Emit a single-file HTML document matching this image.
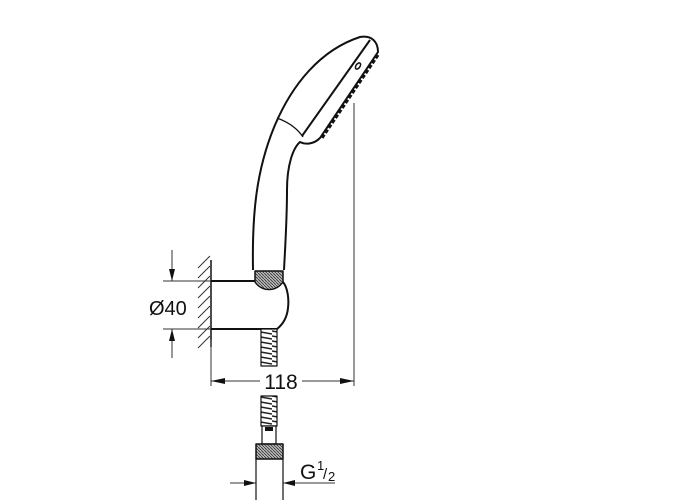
<!DOCTYPE html>
<html><head><style>html,body{margin:0;background:#fff;}svg{display:block}</style></head>
<body>
<svg width="700" height="500" viewBox="0 0 700 500" xmlns="http://www.w3.org/2000/svg">
<defs>
<pattern id="h" width="3" height="3" patternUnits="userSpaceOnUse"><rect width="3" height="3" fill="#bbb"/><path d="M0 0L3 3" stroke="#333" stroke-width="0.8"/></pattern>
<pattern id="hose" width="17" height="5" patternUnits="userSpaceOnUse"><rect width="17" height="5" fill="#fff"/><path d="M0 1L17 4" stroke="#222" stroke-width="1.6"/></pattern>
</defs>
<g fill="none" stroke="#111" stroke-width="2" stroke-linejoin="round">
<path d="M253 270 C252 215 256 170 275 125 C292 85 320 50 360 37 C372 35 378 42 378 52 L320 138 C314 144 306 145 300 142 C293 148 287 165 287 190 C287 220 285 250 284 270"/>
<path d="M370 40 L302 136"/>
<path d="M378 55 L322 138" stroke-width="3" stroke-dasharray="4 2"/>
<path d="M277 118 C288 122 297 128 303 137" stroke-width="1.3"/>
<ellipse cx="358" cy="66" rx="2" ry="3.5" stroke-width="1.5" transform="rotate(35 358 66)"/>
<path d="M255 271 L283 271 L283 282 C276 292 262 292 255 282 Z" fill="url(#h)" stroke-width="1.5"/>
<path d="M211 281 L255 281 M283 282 C288 288 289 300 288 308 C287 318 282 325 277 329 L211 329"/>
<rect x="261" y="329" width="16" height="37" fill="url(#hose)" stroke-width="1.2"/>
<rect x="261" y="396" width="16" height="30" fill="url(#hose)" stroke-width="1.2"/>
<rect x="262" y="426" width="14" height="18" fill="#fff" stroke-width="1.2"/>
<rect x="265" y="427" width="8" height="4" fill="#111" stroke="none"/>
<rect x="256" y="444" width="27" height="15" fill="url(#h)" stroke-width="1.5"/>
<path d="M256 459 L256 500 M283 459 L283 500" stroke-width="1.2"/>
<path d="M211 260 L211 347" stroke-width="1.5"/>
</g>
<g stroke="#333" stroke-width="1">
<path d="M198 268 L210 256 M198 278 L210 266 M198 288 L210 276 M198 298 L210 286 M198 308 L210 296 M198 318 L210 306 M198 328 L210 316 M198 338 L210 326 M198 348 L210 336"/>
<path d="M163 281 L211 281 M163 329 L211 329"/>
<path d="M172 250 L172 281 M172 329 L172 358"/>
<path d="M354 103 L354 386 M211 340 L211 386"/>
<path d="M211 381 L260 381 M302 381 L354 381"/>
<path d="M230 483 L256 483 M283 483 L335 483"/>
</g>
<g fill="#111">
<path d="M172 281 L169 269 L175 269Z"/>
<path d="M172 329 L169 341 L175 341Z"/>
<path d="M211 381 L225 378 L225 384Z"/>
<path d="M354 381 L340 378 L340 384Z"/>
<path d="M256 483 L244 480 L244 486Z"/>
<path d="M283 483 L295 480 L295 486Z"/>
</g>
<g font-family="Liberation Sans, sans-serif" fill="#111">
<text x="149" y="315" font-size="20">Ø40</text>
<text x="281" y="389" font-size="21" text-anchor="middle">118</text>
<text x="300" y="479" font-size="21">G</text>
<text x="317" y="470" font-size="13">1</text>
<text x="323" y="479" font-size="15">/</text>
<text x="328" y="481" font-size="13">2</text>
</g>
</svg>
</body></html>
